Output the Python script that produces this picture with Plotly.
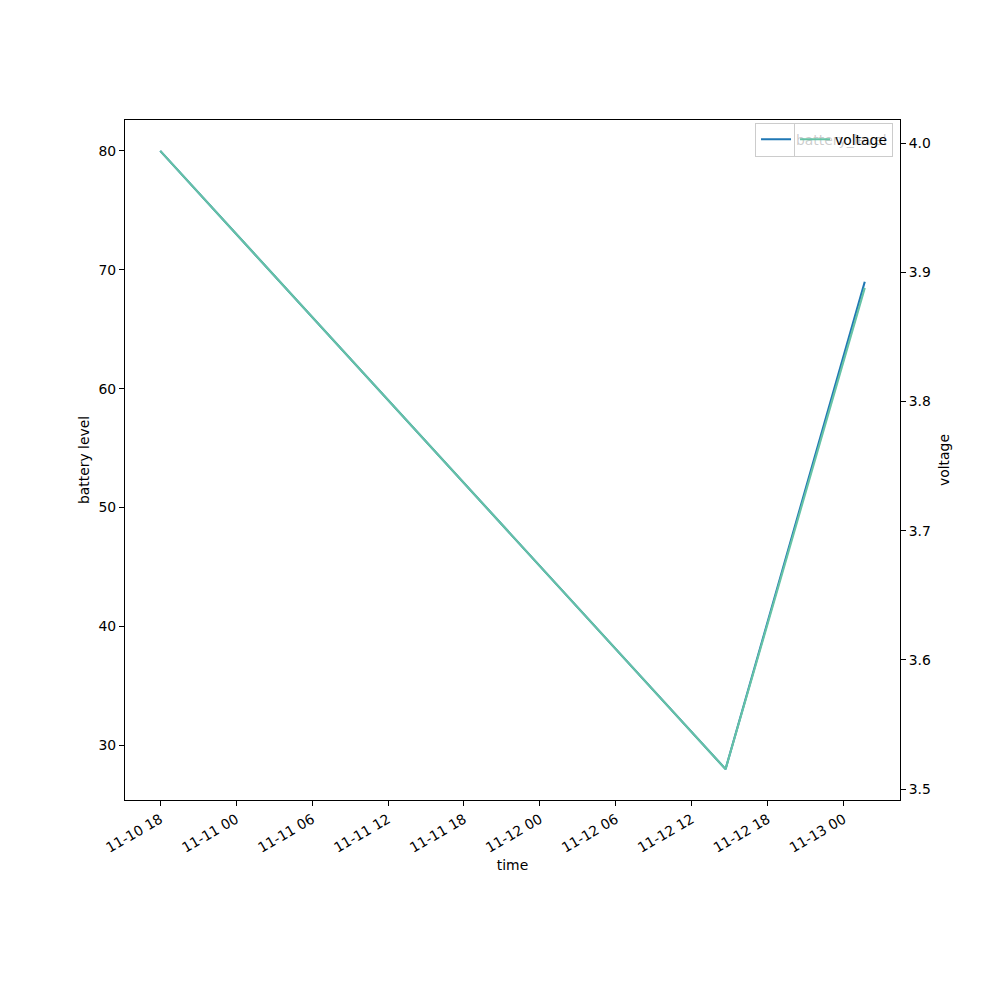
import plotly.graph_objects as go

times = ["2023-11-10 18:00", "2023-11-12 14:40", "2023-11-13 01:40"]
battery_level = [80, 28, 69]
voltage = [3.994, 3.5155, 3.888]

x_ticks = ["2023-11-10 18:00", "2023-11-11 00:00", "2023-11-11 06:00", "2023-11-11 12:00",
           "2023-11-11 18:00", "2023-11-12 00:00", "2023-11-12 06:00", "2023-11-12 12:00",
           "2023-11-12 18:00", "2023-11-13 00:00"]
x_tick_labels = ["11-10 18", "11-11 00", "11-11 06", "11-11 12", "11-11 18",
                 "11-12 00", "11-12 06", "11-12 12", "11-12 18", "11-13 00"]
left_ticks = [30, 40, 50, 60, 70, 80]
right_ticks = [3.5, 3.6, 3.7, 3.8, 3.9, 4.0]

FONT = "DejaVu Sans"
FS = 13.9

fig = go.Figure()
fig.add_trace(go.Scatter(x=times, y=battery_level, mode="lines", name="battery_level",
                         line=dict(color="#1f77b4", width=2.1), legend="legend"))
fig.add_trace(go.Scatter(x=times, y=voltage, mode="lines", name="voltage", yaxis="y2",
                         line=dict(color="#66c2a5", width=2.1), legend="legend2"))

axis_common = dict(showgrid=False, zeroline=False, showline=True, linecolor="black", linewidth=1,
                   ticks="outside", ticklen=5, tickwidth=1, tickcolor="black", automargin=False,
                   tickfont=dict(family=FONT, size=FS, color="black"))

fig.update_layout(
    width=992, height=992,
    margin=dict(l=117, r=100, t=112, b=200, autoexpand=False),
    paper_bgcolor="white", plot_bgcolor="white",
    font=dict(family=FONT, size=FS, color="black"),
    xaxis=dict(**axis_common, mirror=True, type="date",
               range=["2023-11-10 15:13", "2023-11-13 04:27"],
               tickvals=x_ticks, ticktext=x_tick_labels, tickangle=-30,
               title=dict(text="time", font=dict(family=FONT, size=FS), standoff=5)),
    yaxis=dict(**axis_common, range=[25.4, 82.6], tickvals=left_ticks,
               title=dict(text="battery level", font=dict(family=FONT, size=FS), standoff=5)),
    yaxis2=dict(**axis_common, overlaying="y", side="right", range=[3.4916, 4.0179],
                tickvals=right_ticks, tickformat=".1f",
                title=dict(text="voltage", font=dict(family=FONT, size=FS), standoff=9)),
    legend=dict(x=0.991, y=0.996, xanchor="right", yanchor="top",
                bgcolor="rgba(255,255,255,0.8)", bordercolor="#cccccc", borderwidth=1,
                font=dict(family=FONT, size=FS), itemwidth=30),
    legend2=dict(x=0.991, y=0.996, xanchor="right", yanchor="top",
                 bgcolor="rgba(255,255,255,0.8)", bordercolor="#cccccc", borderwidth=1,
                 font=dict(family=FONT, size=FS), itemwidth=30),
    showlegend=True,
)

fig.write_html("out.html")
